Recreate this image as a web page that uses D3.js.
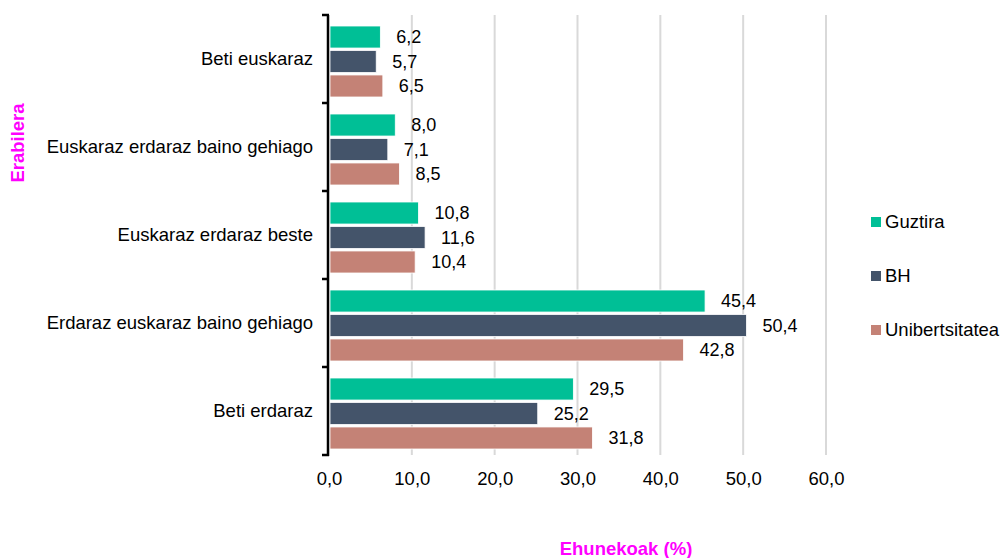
<!DOCTYPE html>
<html><head><meta charset="utf-8">
<script src="https://cdn.jsdelivr.net/npm/d3@7"></script>
<style>body{margin:0;background:#fff}svg{display:block;font-family:"Liberation Sans",Arial,sans-serif}</style>
</head><body><svg id="c" width="1000" height="558"></svg>
<script>
const categories = ["Beti euskaraz","Euskaraz erdaraz baino gehiago","Euskaraz erdaraz beste","Erdaraz euskaraz baino gehiago","Beti erdaraz"];
const seriesNames = ["Guztira","BH","Unibertsitatea"];
const guztira = [6.2,8.0,10.8,45.4,29.5];
const bh = [5.7,7.1,11.6,50.4,25.2];
const unibertsitatea = [6.5,8.5,10.4,42.8,31.8];
const xTicks = [0,10,20,30,40,50,60];
const colors = ["#00BF96","#44546A","#C48276"];
const values = [guztira,bh,unibertsitatea];

const svg = d3.select("#c");
const x = d3.scaleLinear().domain([0,60]).range([329,826]);
const y = d3.scaleBand().domain(categories).range([15,455]);
const inner = d3.scaleBand().domain(seriesNames).range([11,82]).paddingInner(0.1);

// gridlines
svg.append("g").selectAll("line").data(xTicks.slice(1)).join("line")
  .attr("x1",d=>x(d)).attr("x2",d=>x(d)).attr("y1",15).attr("y2",455)
  .attr("stroke","#d9d9d9").attr("stroke-width",2);

// bars
categories.forEach((c,i)=>{
  seriesNames.forEach((s,j)=>{
    const v = values[j][i];
    svg.append("rect").attr("x",x(0)+1).attr("y",y(c)+inner(s))
      .attr("width",x(v)-x(0)-1).attr("height",inner.bandwidth())
      .attr("fill",colors[j]).attr("stroke","#fff").attr("stroke-width",0.8);
    svg.append("text").attr("x",x(v)+16).attr("y",y(c)+inner(s)+inner.bandwidth()/2)
      .attr("dy","0.35em").attr("font-size",18).attr("fill","#000")
      .text(d3.format(".1f")(v).replace(".",","));
  });
});

// y axis
const yAxis = d3.axisLeft(y).tickSize(0).tickPadding(15);
const ga = svg.append("g").attr("transform","translate(328,0)").call(yAxis);
ga.select(".domain").remove();
ga.selectAll("text").attr("font-size",18.5).attr("fill","#000").attr("font-family","Liberation Sans, Arial, sans-serif");
svg.append("line").attr("x1",328).attr("x2",328).attr("y1",15).attr("y2",456).attr("stroke","#000").attr("stroke-width",2.5);
const bounds = [15].concat(categories.map(c=>y(c)+y.bandwidth()));
svg.append("g").selectAll("line").data(bounds).join("line")
  .attr("x1",322).attr("x2",329).attr("y1",d=>d).attr("y2",d=>d)
  .attr("stroke","#000").attr("stroke-width",2.5);

// x axis
const xAxis = d3.axisBottom(x).tickValues(xTicks).tickSize(0).tickPadding(0).tickFormat(d=>d3.format(".1f")(d).replace(".",","));
const gx = svg.append("g").attr("transform","translate(0,485)").call(xAxis);
gx.select(".domain").remove();
gx.selectAll("text").attr("dy",0).attr("y",0).attr("font-size",18.5).attr("fill","#000").attr("font-family","Liberation Sans, Arial, sans-serif");

// legend
const ly = [222,276,330];
seriesNames.forEach((s,j)=>{
  svg.append("rect").attr("x",871).attr("y",ly[j]-5).attr("width",10).attr("height",10).attr("fill",colors[j]);
  svg.append("text").attr("x",885).attr("y",ly[j]).attr("dy","0.35em").attr("font-size",18.5).attr("fill","#000").text(s);
});

// titles
svg.append("text").attr("x",626).attr("y",555).attr("text-anchor","middle").attr("font-size",18.5)
  .attr("font-weight","bold").attr("fill","#FF00FF").text("Ehunekoak (%)");
svg.append("text").attr("transform","translate(24,143) rotate(-90)").attr("text-anchor","middle")
  .attr("font-size",18.5).attr("font-weight","bold").attr("fill","#FF00FF").text("Erabilera");
</script></body></html>
